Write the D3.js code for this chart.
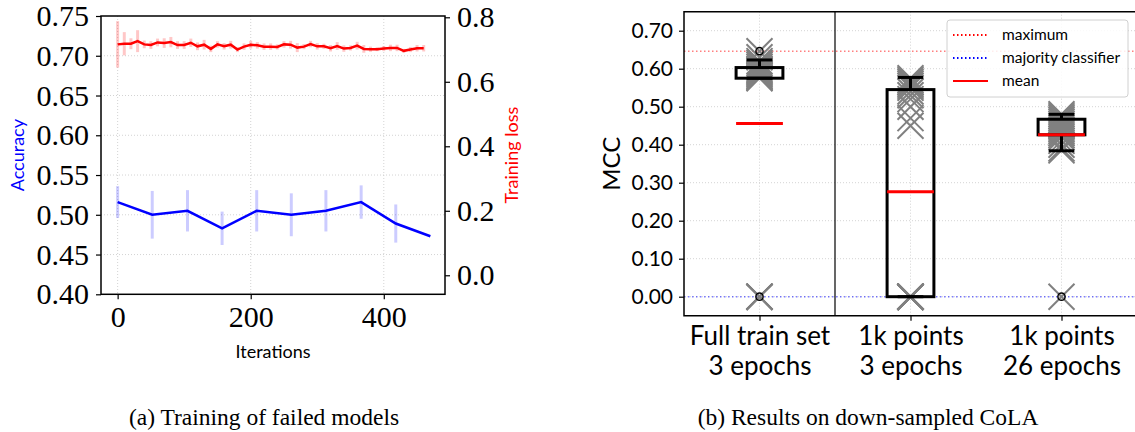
<!DOCTYPE html>
<html>
<head>
<meta charset="utf-8">
<script src="https://cdn.jsdelivr.net/npm/d3@7"></script>
<style>
  body { margin: 0; background: #fff; }
  svg { display: block; }
  .serif { font-family: "Liberation Serif", serif; }
  .sans { font-family: Lato, "DejaVu Sans", sans-serif; }
</style>
</head>
<body>
<svg id="chart" width="1135" height="432"></svg>
<script>
// ---- (a) training of failed models ----
const accIters = [0, 52, 105, 157, 209, 261, 313, 366, 418, 470];
const accMean  = [0.516, 0.500, 0.505, 0.483, 0.505, 0.500, 0.505, 0.516, 0.489, 0.473];
const accStd   = [0.020, 0.030, 0.026, 0.021, 0.026, 0.027, 0.026, 0.021, 0.024, 0];

const lossIters = d3.range(0, 461, 10);
const lossMean = [0.716, 0.718, 0.718, 0.726, 0.716, 0.714, 0.722, 0.720, 0.723, 0.714,
                  0.714, 0.721, 0.710, 0.715, 0.702, 0.716, 0.710, 0.715, 0.700, 0.709,
                  0.715, 0.713, 0.709, 0.709, 0.708, 0.716, 0.715, 0.706, 0.709, 0.717,
                  0.710, 0.710, 0.704, 0.711, 0.703, 0.705, 0.712, 0.702, 0.701, 0.701,
                  0.703, 0.705, 0.705, 0.696, 0.700, 0.704, 0.704];
const lossStd  = [0.072, 0.036, 0.017, 0.034, 0.012, 0.012, 0.012, 0.015, 0.016, 0.012,
                  0.012, 0.013, 0.012, 0.015, 0.010, 0.010, 0.010, 0.012, 0.008, 0.010,
                  0.012, 0.010, 0.010, 0.010, 0.008, 0.010, 0.012, 0.014, 0.008, 0.010,
                  0.010, 0.008, 0.010, 0.012, 0.010, 0.008, 0.012, 0.012, 0.008, 0.006,
                  0.008, 0.010, 0.010, 0.006, 0.008, 0.010, 0.010];

const accTicks  = [0.40, 0.45, 0.50, 0.55, 0.60, 0.65, 0.70, 0.75];
const lossTicks = [0.0, 0.2, 0.4, 0.6, 0.8];
const iterTicks = [0, 200, 400];

// ---- (b) results on down-sampled CoLA ----
const groups = [["Full train set", "3 epochs"], ["1k points", "3 epochs"], ["1k points", "26 epochs"]];
const boxLow   = [0.575, 0.000, 0.426];
const boxHigh  = [0.603, 0.545, 0.467];
const whiskLow = [0.575, 0.000, 0.384];
const whiskHigh= [0.623, 0.577, 0.480];
const groupMean= [0.456, 0.276, 0.426];
const fliers   = [[0.646, 0.0], [], [0.0]];
const runs = [
  [0.646, 0.630, 0.620, 0.615, 0.610, 0.605, 0.600, 0.597, 0.594, 0.590, 0.587, 0.584,
   0.580, 0.577, 0.575, 0, 0, 0, 0, 0],
  [0.575, 0.570, 0.565, 0.560, 0.555, 0.550, 0.540, 0.530, 0.520, 0.500, 0.470, 0.450,
   0, 0, 0, 0, 0, 0, 0, 0, 0, 0, 0],
  [0.480, 0.475, 0.470, 0.465, 0.460, 0.455, 0.450, 0.445, 0.440, 0.435, 0.430, 0.425,
   0.420, 0.410, 0.400, 0.390, 0.385, 0]
];
const maxMCC = 0.646;
const majorityMCC = 0.0;
const mccTicks = [0.0, 0.1, 0.2, 0.3, 0.4, 0.5, 0.6, 0.7];

const svg = d3.select('#chart');
svg.append('rect').attr('width', 1135).attr('height', 432).attr('fill', '#fff');

const gridStyle = sel => sel.attr('stroke', '#c8c8c8').attr('stroke-width', 0.8)
                            .attr('stroke-dasharray', '1,2');

// =============== left chart ===============
const L = {left: 101, right: 445, top: 16, bottom: 294.3};
const lx  = d3.scaleLinear().domain([-25, 492]).range([L.left, L.right]);
const ly  = d3.scaleLinear().domain([0.40, 0.75]).range([L.bottom, L.top]);
const ly2 = d3.scaleLinear().domain([-0.059, 0.804]).range([L.bottom, L.top]);

const gl = svg.append('g');

gl.selectAll('line.vgrid').data(iterTicks).join('line')
    .attr('x1', d => lx(d)).attr('x2', d => lx(d))
    .attr('y1', L.top).attr('y2', L.bottom).call(gridStyle);
gl.selectAll('line.hgrid').data(accTicks.slice(1, -1)).join('line')
    .attr('x1', L.left).attr('x2', L.right)
    .attr('y1', d => ly(d)).attr('y2', d => ly(d)).call(gridStyle);

// loss error bars + line
gl.append('g').selectAll('line').data(lossIters).join('line')
    .attr('x1', d => lx(d)).attr('x2', d => lx(d))
    .attr('y1', (d, i) => ly2(lossMean[i] - lossStd[i]))
    .attr('y2', (d, i) => ly2(lossMean[i] + lossStd[i]))
    .attr('stroke', 'rgba(255,0,0,0.22)').attr('stroke-width', 3);
gl.append('path')
    .datum(lossIters.map((d, i) => [d, lossMean[i]]))
    .attr('d', d3.line().x(d => lx(d[0])).y(d => ly2(d[1])))
    .attr('fill', 'none').attr('stroke', '#ff0000').attr('stroke-width', 2.5);

// accuracy error bars + line
gl.append('g').selectAll('line').data(accIters.filter((d, i) => accStd[i] > 0)).join('line')
    .attr('x1', d => lx(d)).attr('x2', d => lx(d))
    .attr('y1', (d, i) => ly(accMean[i] - accStd[i]))
    .attr('y2', (d, i) => ly(accMean[i] + accStd[i]))
    .attr('stroke', 'rgba(0,0,255,0.2)').attr('stroke-width', 3);
gl.append('path')
    .datum(accIters.map((d, i) => [d, accMean[i]]))
    .attr('d', d3.line().x(d => lx(d[0])).y(d => ly(d[1])))
    .attr('fill', 'none').attr('stroke', '#0000ff').attr('stroke-width', 2.5);

function styleAxis(g, cls, size) {
    g.select('.domain').remove();
    g.selectAll('.tick line').attr('stroke', '#000').attr('stroke-width', 1.2);
    g.selectAll('.tick text').attr('class', cls).style('font-size', size + 'px').attr('fill', '#000');
}

gl.append('g').attr('transform', `translate(0,${L.bottom})`)
    .call(d3.axisBottom(lx).tickValues(iterTicks).tickSize(5).tickPadding(6).tickFormat(d3.format('d')))
    .call(g => styleAxis(g, 'serif', 30));
gl.append('g').attr('transform', `translate(${L.left},0)`)
    .call(d3.axisLeft(ly).tickValues(accTicks).tickSize(5).tickPadding(7).tickFormat(d3.format('.2f')))
    .call(g => styleAxis(g, 'serif', 30));
gl.append('g').attr('transform', `translate(${L.right},0)`)
    .call(d3.axisRight(ly2).tickValues(lossTicks).tickSize(5).tickPadding(7).tickFormat(d3.format('.1f')))
    .call(g => styleAxis(g, 'serif', 30));

gl.append('rect').attr('x', L.left).attr('y', L.top)
    .attr('width', L.right - L.left).attr('height', L.bottom - L.top)
    .attr('fill', 'none').attr('stroke', '#000').attr('stroke-width', 1.5);

gl.append('text').attr('class', 'sans').attr('x', (L.left + L.right) / 2).attr('y', 358)
    .attr('text-anchor', 'middle').style('font-size', '18px').text('Iterations');
gl.append('text').attr('class', 'sans')
    .attr('transform', `translate(24,${(L.top + L.bottom) / 2}) rotate(-90)`)
    .attr('text-anchor', 'middle').attr('fill', '#0000ff').style('font-size', '18px').text('Accuracy');
gl.append('text').attr('class', 'sans')
    .attr('transform', `translate(518,${(L.top + L.bottom) / 2}) rotate(-90)`)
    .attr('text-anchor', 'middle').attr('fill', '#ff0000').style('font-size', '18px').text('Training loss');

// =============== right chart ===============
const R = {left: 684, right: 1137, top: 11.7, bottom: 315.7};
const rx = d3.scaleLinear().domain([0.5, 3.5]).range([R.left, R.right]);
const ry = d3.scaleLinear().domain([-0.05, 0.75]).range([R.bottom, R.top]);
const gr = svg.append('g');

gr.selectAll('line.vgrid').data(groups).join('line')
    .attr('x1', (d, i) => rx(i + 1)).attr('x2', (d, i) => rx(i + 1))
    .attr('y1', R.top).attr('y2', R.bottom).call(gridStyle);
gr.selectAll('line.hgrid').data(mccTicks).join('line')
    .attr('x1', R.left).attr('x2', R.right)
    .attr('y1', d => ry(d)).attr('y2', d => ry(d)).call(gridStyle);

// reference lines
gr.append('line').attr('x1', R.left).attr('x2', R.right)
    .attr('y1', ry(maxMCC)).attr('y2', ry(maxMCC))
    .attr('stroke', 'rgba(255,0,0,0.5)').attr('stroke-width', 1.5).attr('stroke-dasharray', '1.5,2.5');
gr.append('line').attr('x1', R.left).attr('x2', R.right)
    .attr('y1', ry(majorityMCC)).attr('y2', ry(majorityMCC))
    .attr('stroke', 'rgba(0,0,255,0.5)').attr('stroke-width', 1.5).attr('stroke-dasharray', '1.5,2.5');

// separator between full set and 1k points
gr.append('line').attr('x1', rx(1.5)).attr('x2', rx(1.5))
    .attr('y1', R.top).attr('y2', R.bottom).attr('stroke', '#000').attr('stroke-width', 1.2);

// individual runs as x markers
const mk = 13;
runs.forEach((vals, gi) => {
    const cx = rx(gi + 1);
    gr.append('g').selectAll('path').data(vals).join('path')
        .attr('d', v => `M${cx - mk},${ry(v) - mk}L${cx + mk},${ry(v) + mk}M${cx - mk},${ry(v) + mk}L${cx + mk},${ry(v) - mk}`)
        .attr('stroke', '#808080').attr('stroke-width', 2).attr('fill', 'none');
});

// boxes
const bw = 0.155, cw = 0.085;
groups.forEach((g, gi) => {
    const c = gi + 1;
    const b = gr.append('g').attr('stroke', '#000').attr('stroke-width', 3).attr('fill', 'none');
    b.append('line').attr('x1', rx(c)).attr('x2', rx(c)).attr('y1', ry(boxHigh[gi])).attr('y2', ry(whiskHigh[gi]));
    b.append('line').attr('x1', rx(c)).attr('x2', rx(c)).attr('y1', ry(boxLow[gi])).attr('y2', ry(whiskLow[gi]));
    b.append('line').attr('x1', rx(c - cw)).attr('x2', rx(c + cw)).attr('y1', ry(whiskHigh[gi])).attr('y2', ry(whiskHigh[gi]));
    b.append('line').attr('x1', rx(c - cw)).attr('x2', rx(c + cw)).attr('y1', ry(whiskLow[gi])).attr('y2', ry(whiskLow[gi]));
    b.append('rect').attr('x', rx(c - bw)).attr('y', ry(boxHigh[gi]))
        .attr('width', rx(c + bw) - rx(c - bw)).attr('height', ry(boxLow[gi]) - ry(boxHigh[gi]));
    gr.append('line').attr('x1', rx(c - bw)).attr('x2', rx(c + bw))
        .attr('y1', ry(groupMean[gi])).attr('y2', ry(groupMean[gi]))
        .attr('stroke', '#ff0000').attr('stroke-width', 3);
    gr.append('g').selectAll('circle').data(fliers[gi]).join('circle')
        .attr('cx', rx(c)).attr('cy', v => ry(v)).attr('r', 3.6)
        .attr('fill', 'none').attr('stroke', '#000').attr('stroke-width', 1.5);
});

// axes
gr.append('g').attr('transform', `translate(${R.left},0)`)
    .call(d3.axisLeft(ry).tickValues(mccTicks).tickSize(5).tickPadding(6).tickFormat(d3.format('.2f')))
    .call(g => styleAxis(g, 'sans', 21));
const xb = gr.append('g').attr('transform', `translate(0,${R.bottom})`)
    .call(d3.axisBottom(rx).tickValues([1, 2, 3]).tickSize(5).tickFormat(''))
    .call(g => styleAxis(g, 'sans', 26));
xb.selectAll('.tick').append('text').attr('class', 'sans').attr('fill', '#000')
    .attr('text-anchor', 'middle').style('font-size', '26px')
    .selectAll('tspan').data((d, i) => groups[i]).join('tspan')
    .attr('x', 0).attr('y', (d, j) => 29 + j * 30).text(d => d);

gr.append('path')
    .attr('d', `M${R.right},${R.top}H${R.left}V${R.bottom}H${R.right}`)
    .attr('fill', 'none').attr('stroke', '#000').attr('stroke-width', 1.5);

gr.append('text').attr('class', 'sans')
    .attr('transform', `translate(620,${(R.top + R.bottom) / 2}) rotate(-90)`)
    .attr('text-anchor', 'middle').style('font-size', '24px').text('MCC');

// legend
const legendItems = [
    {label: 'maximum', color: '#ff0000', dash: '1.5,2.5', width: 1.8},
    {label: 'majority classifier', color: '#0000ff', dash: '1.5,2.5', width: 1.8},
    {label: 'mean', color: '#ff0000', dash: null, width: 2}
];
const lg = gr.append('g').attr('transform', 'translate(947,20)');
lg.append('rect').attr('width', 181).attr('height', 77).attr('rx', 3)
    .attr('fill', 'rgba(255,255,255,0.85)').attr('stroke', '#d0d0d0');
const li = lg.selectAll('g.item').data(legendItems).join('g')
    .attr('transform', (d, i) => `translate(0,${15 + i * 23})`);
li.append('line').attr('x1', 6).attr('x2', 41).attr('y1', 0).attr('y2', 0)
    .attr('stroke', d => d.color).attr('stroke-width', d => d.width)
    .attr('stroke-dasharray', d => d.dash);
li.append('text').attr('class', 'sans').attr('x', 55).attr('y', 5)
    .style('font-size', '15.5px').text(d => d.label);

// captions
svg.append('text').attr('class', 'serif').attr('x', 264).attr('y', 425)
    .attr('text-anchor', 'middle').style('font-size', '23.5px').text('(a) Training of failed models');
svg.append('text').attr('class', 'serif').attr('x', 868).attr('y', 425)
    .attr('text-anchor', 'middle').style('font-size', '23.5px').text('(b) Results on down-sampled CoLA');
</script>
</body>
</html>
